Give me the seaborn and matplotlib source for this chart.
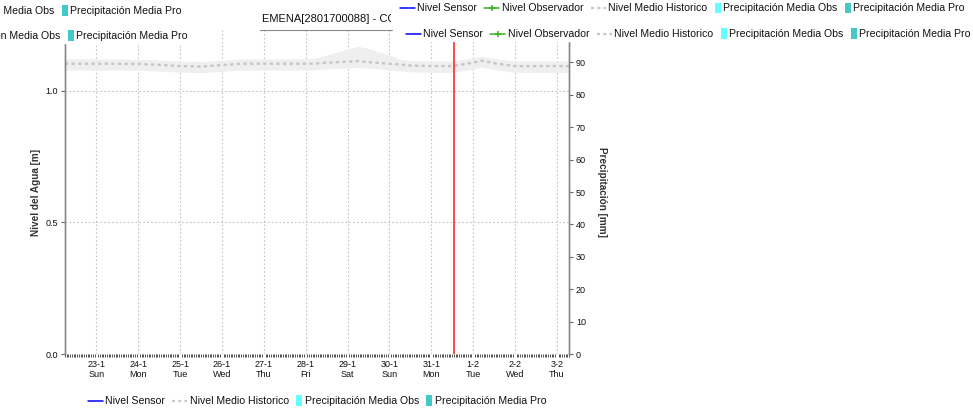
import matplotlib
matplotlib.use("Agg")
import matplotlib.pyplot as plt
import matplotlib.dates as mdates
import seaborn as sns
import pandas as pd
from matplotlib.lines import Line2D
from matplotlib.patches import Rectangle
from matplotlib.offsetbox import DrawingArea, TextArea, HPacker, AnchoredOffsetbox
from matplotlib.transforms import Bbox

sns.set_theme(style="white")
plt.rcParams['font.family'] = ['Liberation Sans', 'DejaVu Sans']

# ---------------- data ----------------
times = ["2022-01-22 06:00", "2022-01-22 12:00", "2022-01-23 00:00", "2022-01-23 12:00",
         "2022-01-24 00:00", "2022-01-24 12:00", "2022-01-25 00:00", "2022-01-25 12:00",
         "2022-01-26 00:00", "2022-01-26 12:00", "2022-01-27 00:00", "2022-01-27 12:00",
         "2022-01-28 00:00", "2022-01-28 06:00", "2022-01-28 12:00", "2022-01-29 00:00",
         "2022-01-29 06:00", "2022-01-29 12:00", "2022-01-30 00:00", "2022-01-30 06:00",
         "2022-01-30 12:00", "2022-01-31 00:00", "2022-01-31 12:00", "2022-02-01 00:00",
         "2022-02-01 05:00", "2022-02-01 12:00", "2022-02-02 00:00", "2022-02-02 12:00",
         "2022-02-03 00:00", "2022-02-03 07:00"]
hist_mean = [1.102, 1.102, 1.102, 1.102, 1.101, 1.098, 1.093, 1.091, 1.097, 1.102,
             1.102, 1.102, 1.102, 1.103, 1.106, 1.110, 1.112, 1.108, 1.102, 1.099,
             1.095, 1.093, 1.093, 1.106, 1.114, 1.104, 1.093, 1.093, 1.093, 1.093]
hist_upper = [1.121, 1.121, 1.120, 1.120, 1.119, 1.116, 1.112, 1.110, 1.115, 1.120,
              1.120, 1.120, 1.121, 1.124, 1.135, 1.158, 1.168, 1.160, 1.135, 1.120,
              1.114, 1.112, 1.112, 1.124, 1.130, 1.122, 1.112, 1.112, 1.112, 1.112]
hist_lower = [1.078, 1.078, 1.078, 1.078, 1.077, 1.074, 1.070, 1.068, 1.073, 1.078,
              1.078, 1.078, 1.078, 1.079, 1.082, 1.086, 1.088, 1.085, 1.078, 1.075,
              1.071, 1.069, 1.069, 1.082, 1.090, 1.080, 1.069, 1.069, 1.069, 1.069]

tick_dates = ["2022-01-23", "2022-01-24", "2022-01-25", "2022-01-26", "2022-01-27",
              "2022-01-28", "2022-01-29", "2022-01-30", "2022-01-31", "2022-02-01",
              "2022-02-02", "2022-02-03"]
tick_day = ["23-1", "24-1", "25-1", "26-1", "27-1", "28-1", "29-1", "30-1", "31-1",
            "1-2", "2-2", "3-2"]
tick_wday = ["Sun", "Mon", "Tue", "Wed", "Thu", "Fri", "Sat", "Sun", "Mon", "Tue",
             "Wed", "Thu"]
level_ticks = [0.0, 0.5, 1.0]
precip_ticks = [0, 10, 20, 30, 40, 50, 60, 70, 80, 90]
now_time = "2022-01-31 13:00"
x_start, x_end = "2022-01-22 06:00", "2022-02-03 07:00"

title_text = "EMENA[2801700088] - CO"
labels_top = ["Nivel Sensor", "Nivel Observador", "Nivel Medio Historico",
              "Precipitación Media Obs", "Precipitación Media Pro"]
labels_bottom = ["Nivel Sensor", "Nivel Medio Historico",
                 "Precipitación Media Obs", "Precipitación Media Pro"]

df = pd.DataFrame({"time": pd.to_datetime(times), "mean": hist_mean,
                   "upper": hist_upper, "lower": hist_lower})

# ---------------- figure ----------------
W, H = 973, 412
fig = plt.figure(figsize=(W / 100, H / 100), dpi=100)
ax = fig.add_axes([65 / W, (H - 354) / H, (569 - 65) / W, (354 - 30) / H])

ax.fill_between(df["time"], df["lower"], df["upper"], color="#efefef", lw=0, zorder=1)
sns.lineplot(data=df, x="time", y="mean", ax=ax, color="#c6c6c6", lw=1.7,
             linestyle=(0, (1.4, 1.4)), zorder=2)
ax.axvline(pd.Timestamp(now_time), color="#ff2a2a", lw=1.2, zorder=4)

ax.set_xlim(pd.Timestamp(x_start), pd.Timestamp(x_end))
ax.set_ylim(0, 1.23)
ax.set_yticks(level_ticks)
ax.set_yticklabels([f"{v:.1f}" for v in level_ticks])
ax.set_xticks(pd.to_datetime(tick_dates))
ax.set_xticklabels([f"{d}\n{w}" for d, w in zip(tick_day, tick_wday)], linespacing=1.15)
ax.xaxis.set_minor_locator(mdates.HourLocator(interval=1))
ax.set_xlabel("")
ax.set_ylabel("")

ax.tick_params(axis="x", which="major", length=0, pad=4, labelsize=6.5, labelcolor="#111")
ax.tick_params(axis="x", which="minor", length=2, width=0.6, color="#333", bottom=True)
ax.tick_params(axis="y", which="major", length=3, width=0.8, color="#666", labelsize=6.5,
               pad=2, labelcolor="#111", left=True)
ax.grid(True, which="major", color="#c4c4c4", linestyle=(0, (1.5, 2.0)), lw=0.8)
ax.grid(False, which="minor")
ax.set_axisbelow(True)

ax2 = ax.twinx()
ax2.set_ylim(0, 100)
ax2.set_yticks(precip_ticks)
ax2.set_yticklabels([str(v) for v in precip_ticks])
ax2.tick_params(axis="y", length=3, width=0.8, color="#666", labelsize=6.5, pad=2,
                labelcolor="#111", right=True)
ax2.grid(False)

for a in (ax, ax2):
    a.spines["top"].set_visible(False)
    a.spines["bottom"].set_visible(False)
    a.spines["left"].set_color("#888888")
    a.spines["right"].set_color("#888888")
    a.spines["left"].set_linewidth(1.0)
    a.spines["right"].set_linewidth(1.0)

ax.set_ylabel("Nivel del Agua [m]", fontsize=7.2, color="#333", fontweight="bold")
ax.yaxis.label.set(va="center", ha="center", rotation=90)
ax.yaxis.set_label_coords((36 - 65) / 504, 0.5)
ax2.set_ylabel("Precipitación [mm]", fontsize=7.2, color="#333", fontweight="bold")
ax2.yaxis.label.set(va="center", ha="center", rotation=-90)
ax2.yaxis.set_label_coords((602 - 65) / 504, 0.5)

# ---------------- title (partly hidden) ----------------
t = fig.text(262 / W, 1 - 19 / H, title_text, fontsize=8, ha="left", va="center",
             color="#111")
t.set_clip_box(Bbox.from_extents(255, H - 30, 391, H))
t.set_clip_on(True)
fig.add_artist(Line2D([260 / W, 392 / W], [1 - 29.5 / H] * 2,
                      transform=fig.transFigure, color="#8a8a8a", lw=0.8))

# ---------------- legends ----------------
styles = {
    "Nivel Sensor": ("line", dict(color="#0000ff", lw=1.1)),
    "Nivel Observador": ("line", dict(color="#3cb21e", lw=1.1, marker="+", ms=4, mew=1.1)),
    "Nivel Medio Historico": ("line", dict(color="#c8c8c8", lw=1.6, linestyle=(0, (1.4, 1.4)))),
    "Precipitación Media Obs": ("box", dict(fc="#66ffff")),
    "Precipitación Media Pro": ("box", dict(fc="#44c8c8")),
}
FS = 7.6


def make_legend(labels, x_px, y_px, loc="center left"):
    items = []
    for lab in labels:
        kind, st = styles[lab]
        if kind == "line":
            da = DrawingArea(10.8, 8, 0, 0)
            da.add_artist(Line2D([0, 10.8], [4, 4], markevery=[0, 1] if False else None, **st))
            if lab == "Nivel Observador":
                da.add_artist(Line2D([5.4], [4], color=st["color"], marker="+", ms=4, mew=1.1, lw=0))
        else:
            da = DrawingArea(4.4, 8, 0, 0)
            da.add_artist(Rectangle((0, 0.3), 4.4, 7.4, lw=0, **st))
        ta = TextArea(lab, textprops=dict(fontsize=FS, color="#111"))
        items.append(HPacker(children=[da, ta], pad=0, sep=1.8, align="center"))
    row = HPacker(children=items, pad=0, sep=5.2, align="center")
    box = AnchoredOffsetbox(loc=loc, child=row, pad=0.15, borderpad=0, frameon=True,
                            bbox_to_anchor=(x_px / W, 1 - y_px / H),
                            bbox_transform=fig.transFigure, prop=dict(size=FS))
    box.patch.set(facecolor="white", edgecolor="white")
    box.set_zorder(6)
    fig.add_artist(box)


# styles for Observador line without marker on ends
styles["Nivel Observador"] = ("line", dict(color="#3cb21e", lw=1.1))

SHIFT = 783
make_legend(labels_top, 398, 8)
make_legend(labels_top, 398 - SHIFT, 10.5)
make_legend(labels_top, 404, 33.5)
make_legend(labels_top, 404 - SHIFT, 35.5)
make_legend(labels_bottom, 317, 400.5, loc="center")

fig.savefig("out.png", dpi=100)
